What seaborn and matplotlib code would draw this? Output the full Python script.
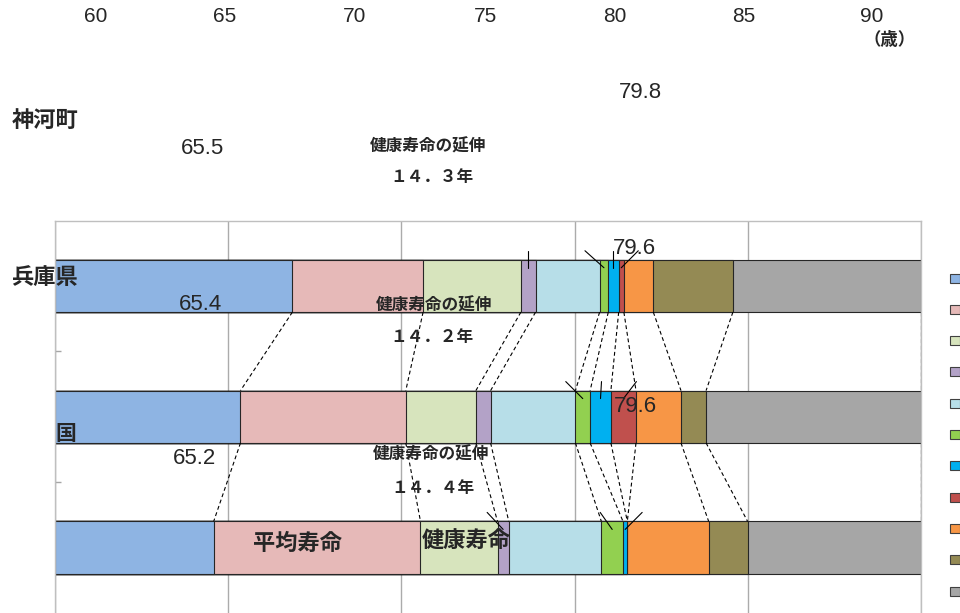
import numpy as np
import pandas as pd
import matplotlib
matplotlib.use('Agg')
import matplotlib.pyplot as plt
from matplotlib.patches import Rectangle
import seaborn as sns

# bar rows (top to bottom) and their stacked segment widths (axis 0-100)
rows = ['兵庫県', '国', '神河町']
hyogo = [27.4, 15.1, 11.3, 1.7, 7.4, 1.0, 1.2, 0.6, 3.4, 9.2, 21.7]
kuni = [21.4, 19.1, 8.1, 1.7, 9.8, 1.7, 2.4, 2.9, 5.2, 2.9, 24.8]
kamikawa = [18.3, 23.9, 8.9, 1.3, 10.7, 2.5, 0.5, 0.0, 9.4, 4.5, 20.0]
seg_colors = ['#8EB4E3', '#E6B9B8', '#D7E4BD', '#B3A2C7', '#B7DEE8', '#92D050',
              '#00B0F0', '#C0504D', '#F79646', '#948A54', '#A6A6A6']

# floating labels
top_ticks = ['60', '65', '70', '75', '80', '85', '90']
areas = ['神河町', '兵庫県', '国']
avg_life = [79.8, 79.6, 79.6]
healthy_life = [65.5, 65.4, 65.2]

# leader lines for small segments: (row, segment, label offset in px)
leaders = [(0, 3, 0), (0, 5, -19), (0, 6, 0), (0, 7, 17),
           (1, 5, -17), (1, 6, 1), (1, 7, 13),
           (2, 3, -16), (2, 5, -12), (2, 6, 17)]

W, H = 960, 613
sns.set_theme(style='white')
plt.rcParams['font.family'] = ['Liberation Sans', 'Noto Sans CJK JP', 'DejaVu Sans']

fig = plt.figure(figsize=(W / 100, H / 100), dpi=100)
ax = fig.add_axes([55.3 / W, 0, 865.4 / W, 392.5 / H])

widths = np.array([hyogo, kuni, kamikawa])
cum = widths.cumsum(axis=1)

# stack by overdrawing cumulative totals, longest first
for i in range(len(seg_colors) - 1, -1, -1):
    df = pd.DataFrame({'row': rows, 'val': cum[:, i]})
    sns.barplot(data=df, x='val', y='row', order=rows, orient='h', color=seg_colors[i],
                saturation=1, width=0.4, edgecolor='#262626', linewidth=0.8,
                errorbar=None, ax=ax)

# dashed connectors between neighbouring bars
for r in range(len(rows) - 1):
    for j in range(cum.shape[1]):
        ax.plot([cum[r, j], cum[r + 1, j]], [r + 0.2, r + 0.8], color='black',
                lw=0.8, dashes=(3.5, 2.5), zorder=3)

# leader lines
px_x = 100 / 865.4
px_y = 1 / 130.8
for r, s, dx in leaders:
    cx = cum[r, s] - widths[r, s] / 2
    top = r - 0.2
    ax.plot([cx + dx * px_x, cx], [top - 9 * px_y, top + 8 * px_y], color='black',
            lw=0.8, zorder=4)

ax.set_xlim(0, 100)
ax.set_ylim(2.5, -0.5)
ax.set_xticks([0, 20, 40, 60, 80, 100])
ax.set_xticklabels([])
ax.set_yticks([])
ax.set_yticks([0.5, 1.5], minor=True)
ax.tick_params(axis='x', length=0)
ax.tick_params(axis='y', which='minor', direction='in', length=4, color='#A6A6A6',
               width=1, left=True)
ax.set_xlabel('')
ax.set_ylabel('')
ax.grid(axis='x', color='#ABABAB', lw=1)
ax.set_axisbelow(True)
for side in ['top', 'left', 'right']:
    ax.spines[side].set_color('#BFBFBF')
    ax.spines[side].set_linewidth(1)
ax.spines['bottom'].set_visible(False)


def put(x, y, s, **kw):
    fig.text(x / W, 1 - y / H, s, ha='center', va='center', **kw)


jp = ['Noto Sans CJK JP', 'DejaVu Sans']
num = ['Liberation Sans', 'DejaVu Sans']

for lab, x in zip(top_ticks, [96, 225, 355, 485, 615, 744, 872]):
    put(x, 16, lab, fontsize=15, family=num)
put(890, 40, '（歳）', fontsize=12.5, family=jp, fontweight='bold')

full = str.maketrans('0123456789.', '０１２３４５６７８９．')
# name, average life, healthy life, extension title, extension value
spots = [
    [(45, 120), (640, 93), (202, 149), (428, 147), (432, 177)],
    [(44, 277), (634, 249), (200, 305), (434, 306), (432, 337)],
    [(66, 433), (635, 407), (195, 458), (431, 455), (433, 488)],
]
for k, name in enumerate(areas):
    p = spots[k]
    put(*p[0], name, fontsize=16 if k < 2 else 15, family=jp, fontweight='bold')
    put(*p[1], f'{avg_life[k]:.1f}', fontsize=16, family=num)
    put(*p[2], f'{healthy_life[k]:.1f}', fontsize=16, family=num)
    put(*p[3], '健康寿命の延伸', fontsize=12, family=jp, fontweight='bold')
    ext = f'{avg_life[k] - healthy_life[k]:.1f}'.translate(full)
    put(*p[4], ext + '年', fontsize=12, family=jp, fontweight='bold')

put(298, 543, '平均寿命', fontsize=16, family=jp, fontweight='bold')
put(466, 541, '健康寿命', fontsize=16, family=jp, fontweight='bold')

# legend keys (their labels fall outside the canvas)
for i, c in enumerate(seg_colors):
    y = 278 + 31.3 * i
    fig.add_artist(Rectangle((949.5 / W, 1 - (y + 4.5) / H), 10 / W, 9 / H,
                             transform=fig.transFigure, facecolor=c,
                             edgecolor='#404040', lw=0.8))

fig.savefig('out.png', dpi=100)
